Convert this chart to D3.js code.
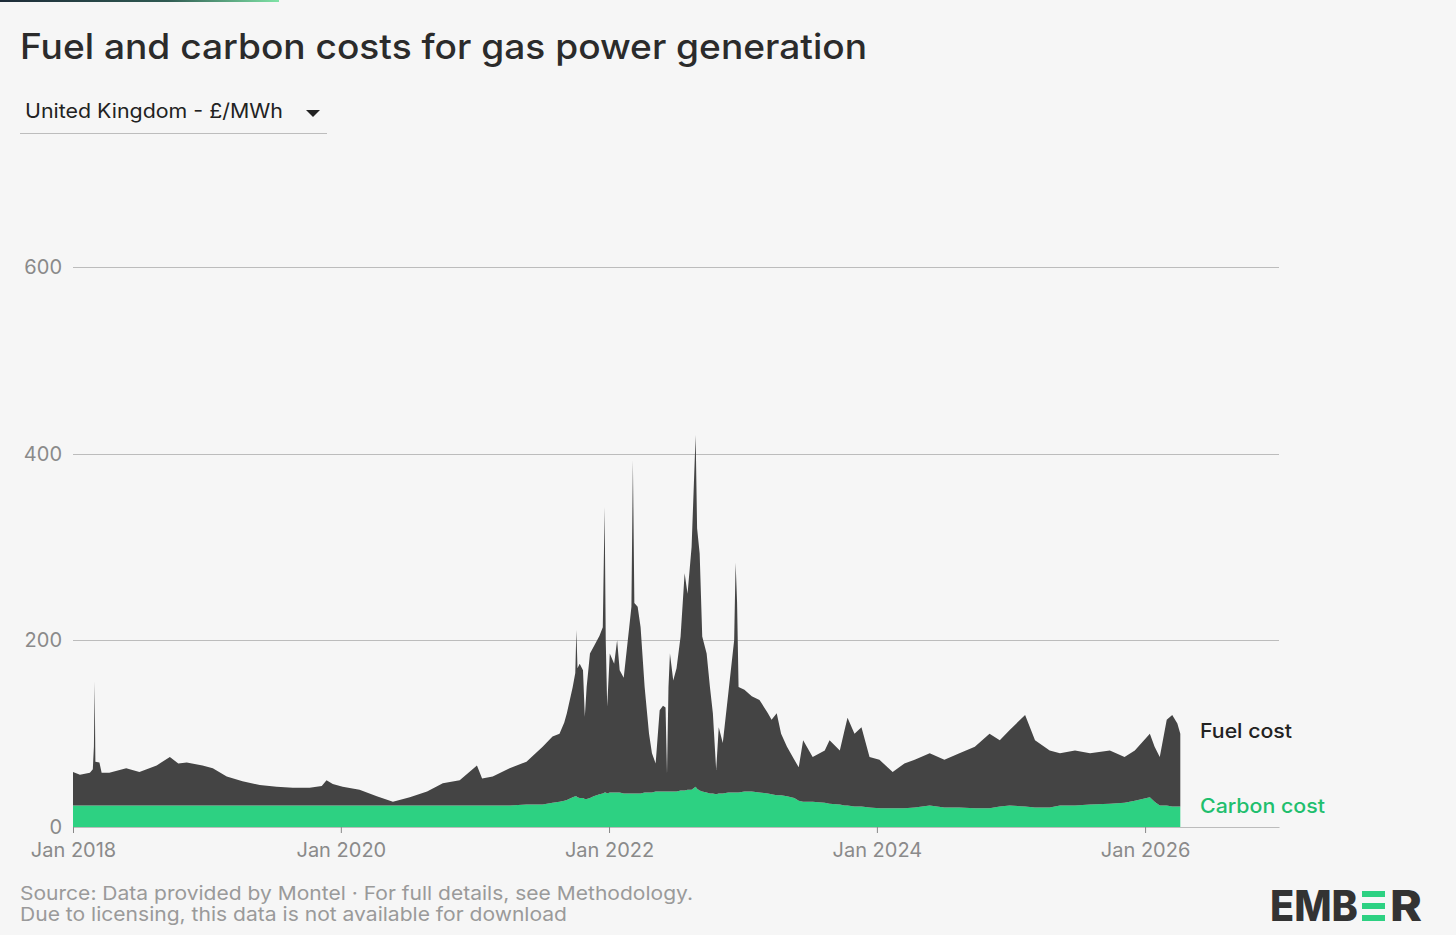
<!DOCTYPE html>
<html>
<head>
<meta charset="utf-8">
<script src="https://cdn.jsdelivr.net/npm/d3@7"></script>
<style>
    body { margin: 0; background: #f6f6f6; }
    svg { display: block; font-family: Inter, "Noto Sans", sans-serif; }
</style>
</head>
<body>
<svg id="chart"></svg>
<script>
// Data (£/MWh), one row of dates per row of values
const dates = [
    '2018-01-01','2018-01-20','2018-02-16','2018-02-24','2018-02-27','2018-03-01','2018-03-03','2018-03-14',
    '2018-03-20','2018-04-10','2018-05-26','2018-07-01','2018-08-17','2018-09-22','2018-10-15','2018-11-07',
    '2018-12-20','2019-01-17','2019-02-24','2019-04-08','2019-05-25','2019-07-10','2019-08-23','2019-10-08',
    '2019-11-10','2019-11-23','2019-12-10','2020-01-06','2020-02-21','2020-04-08','2020-05-22','2020-07-07',
    '2020-08-23','2020-10-05','2020-11-20','2021-01-06','2021-01-20','2021-02-18','2021-04-05','2021-05-21',
    '2021-07-04','2021-07-31','2021-08-19','2021-09-01','2021-09-08','2021-09-24','2021-10-01','2021-10-04',
    '2021-10-07','2021-10-13','2021-10-22','2021-10-27','2021-11-01','2021-11-10','2021-11-20','2021-12-06',
    '2021-12-15','2021-12-20','2021-12-23','2021-12-27','2022-01-03','2022-01-15','2022-01-23','2022-01-30',
    '2022-02-10','2022-02-25','2022-03-03','2022-03-07','2022-03-11','2022-03-20','2022-03-28','2022-04-08',
    '2022-04-20','2022-04-28','2022-05-08','2022-05-19','2022-05-28','2022-06-04','2022-06-08','2022-06-12',
    '2022-06-16','2022-06-25','2022-07-04','2022-07-15','2022-07-26','2022-08-03','2022-08-14','2022-08-25',
    '2022-08-29','2022-09-05','2022-09-12','2022-09-24','2022-10-03','2022-10-11','2022-10-20','2022-10-27',
    '2022-11-07','2022-11-22','2022-12-08','2022-12-12','2022-12-16','2022-12-20','2023-01-05','2023-01-25',
    '2023-02-15','2023-03-10','2023-03-20','2023-04-03','2023-04-15','2023-05-01','2023-05-21','2023-06-02',
    '2023-06-14','2023-07-10','2023-08-12','2023-08-25','2023-09-22','2023-10-05','2023-10-13','2023-11-01',
    '2023-11-20','2023-12-12','2024-01-08','2024-02-13','2024-03-16','2024-04-13','2024-05-24','2024-07-03',
    '2024-08-13','2024-09-24','2024-11-03','2024-12-01','2024-12-28','2025-02-08','2025-03-07','2025-04-16',
    '2025-05-14','2025-06-24','2025-08-04','2025-09-27','2025-11-06','2025-12-04','2026-01-14','2026-01-27',
    '2026-02-10','2026-03-01','2026-03-16','2026-03-30','2026-04-07'
];

const carbonCost = [
    23,23,23,23,23,23,23,23,
    23,23,23,23,23,23,23,23,
    23,23,23,23,23,23,23,23,
    23,23,23,23,23,23,23,23,
    23,23,23,23,23,23,23,24,
    24,26,27,28,29,32,33,33,
    32,31,31,30,30,31,33,35,
    36,37,37,36,37,37,37,37,
    36,36,36,36,36,36,36,37,
    37,37,38,38,38,38,38,38,
    38,38,38,39,39,40,40,43,
    41,39,38,37,36,36,35,36,
    36,37,37,37,37,37,38,38,
    37,36,35,34,34,33,31,28,
    27,27,26,25,24,23,23,22,
    22,21,20,20,20,21,23,21,
    21,20,20,22,23,22,21,21,
    23,23,24,25,26,28,32,27,
    23,23,22,22,22
];

const fuelCost = [
    36,33,35,39,63,133,47,46,
    35,35,40,36,43,52,45,46,
    43,40,31,26,22,20,19,19,
    21,27,23,20,17,10,4,9,
    15,24,27,43,29,31,40,46,
    62,71,73,84,93,118,132,178,
    138,144,137,88,120,155,160,170,
    178,306,163,93,149,138,163,131,
    124,178,200,357,204,200,178,113,
    63,42,30,87,92,90,19,112,
    148,119,132,165,233,210,260,377,
    279,254,166,149,114,86,26,71,
    54,106,163,246,203,113,109,102,
    99,86,80,88,66,53,41,36,
    66,48,56,68,58,81,94,78,
    85,54,52,39,48,51,56,51,
    58,66,80,71,81,98,72,61,
    56,59,55,57,49,54,68,59,
    52,92,98,89,78
];

const yTicks = [0, 200, 400, 600];
const xTickYears = [2018, 2020, 2022, 2024, 2026];
const seriesNames = ['Carbon cost', 'Fuel cost'];

const width = 1456, height = 935;
const margin = { top: 267, right: 177, bottom: 108, left: 73 };

const svg = d3.select('#chart')
    .attr('width', width)
    .attr('height', height);

svg.append('rect')
    .attr('width', width)
    .attr('height', height)
    .attr('fill', '#f6f6f6');

// thin brand bar at the very top
const grad = svg.append('defs').append('linearGradient')
    .attr('id', 'topbar');
grad.append('stop').attr('offset', '0%').attr('stop-color', '#1d2b38');
grad.append('stop').attr('offset', '60%').attr('stop-color', '#2f5a52');
grad.append('stop').attr('offset', '100%').attr('stop-color', '#7fe3a6');
svg.append('rect')
    .attr('x', 0).attr('y', 0)
    .attr('width', 279).attr('height', 2)
    .attr('fill', 'url(#topbar)');

// title
svg.append('text')
    .attr('x', 20)
    .attr('y', 59)
    .attr('font-size', 35)
    .attr('font-weight', 500)
    .attr('fill', '#2b2b2b')
    .attr('textLength', 847)
    .attr('lengthAdjust', 'spacingAndGlyphs')
    .text('Fuel and carbon costs for gas power generation');

// dropdown
svg.append('text')
    .attr('x', 25)
    .attr('y', 118)
    .attr('font-size', 20)
    .attr('fill', '#222')
    .attr('textLength', 258)
    .attr('lengthAdjust', 'spacingAndGlyphs')
    .text('United Kingdom - £/MWh');
svg.append('path')
    .attr('d', 'M306,110 L320,110 L313,117 Z')
    .attr('fill', '#222');
svg.append('line')
    .attr('x1', 20).attr('x2', 327)
    .attr('y1', 133.5).attr('y2', 133.5)
    .attr('stroke', '#bdbdbd');

// chart
const innerW = width - margin.left - margin.right;
const innerH = height - margin.top - margin.bottom;
const chart = svg.append('g')
    .attr('transform', `translate(${margin.left},${margin.top})`);

const parse = d3.timeParse('%Y-%m-%d');
const data = dates.map((d, i) => ({
    date: parse(d),
    carbon: carbonCost[i],
    fuel: fuelCost[i]
}));

const xScale = d3.scaleTime()
    .domain([new Date(2018, 0, 1), new Date(2027, 0, 1)])
    .range([0, innerW]);

const yScale = d3.scaleLinear()
    .domain([0, 600])
    .range([innerH, 0]);

// gridlines
chart.append('g')
    .selectAll('line')
    .data(yTicks.filter(d => d > 0))
    .join('line')
    .attr('x1', 0).attr('x2', innerW)
    .attr('y1', d => Math.round(yScale(d)) + 0.5)
    .attr('y2', d => Math.round(yScale(d)) + 0.5)
    .attr('stroke', '#bcbcbc');

// y labels
chart.append('g')
    .selectAll('text')
    .data(yTicks)
    .join('text')
    .attr('x', -11)
    .attr('y', d => yScale(d))
    .attr('dy', '0.35em')
    .attr('text-anchor', 'end')
    .attr('font-size', 20)
    .attr('fill', '#8a8a8a')
    .text(d => d);

// stacked areas
const stack = d3.stack().keys(['carbon', 'fuel']);
const layers = stack(data);
const colors = { carbon: '#2dd182', fuel: '#444444' };

const area = d3.area()
    .x(d => xScale(d.data.date))
    .y0(d => yScale(d[0]))
    .y1(d => yScale(d[1]));

chart.append('g')
    .selectAll('path')
    .data(layers)
    .join('path')
    .attr('fill', d => colors[d.key])
    .attr('d', area);

// x axis
const xAxis = d3.axisBottom(xScale)
    .tickValues(xTickYears.map(y => new Date(y, 0, 1)))
    .tickSize(6)
    .tickSizeOuter(0)
    .tickPadding(10)
    .tickFormat(d3.timeFormat('Jan %Y'));

const xAxisG = chart.append('g')
    .attr('transform', `translate(0,${innerH})`)
    .call(xAxis);
xAxisG.select('.domain').attr('stroke', '#bcbcbc');
xAxisG.selectAll('.tick line').attr('stroke', '#888');
xAxisG.selectAll('.tick text')
    .attr('font-size', 20)
    .attr('font-family', 'Inter, "Noto Sans", sans-serif')
    .attr('fill', '#8a8a8a');

// series labels at the right end
const last = layers.map(l => l[l.length - 1]);
chart.append('text')
    .attr('x', 1127)
    .attr('y', yScale(last[1][1]) - 3)
    .attr('dy', '0.35em')
    .attr('font-size', 20)
    .attr('font-weight', 500)
    .attr('fill', '#222')
    .attr('textLength', 92)
    .attr('lengthAdjust', 'spacingAndGlyphs')
    .text(seriesNames[1]);
chart.append('text')
    .attr('x', 1127)
    .attr('y', yScale(last[0][1]))
    .attr('dy', '0.35em')
    .attr('font-size', 20)
    .attr('font-weight', 500)
    .attr('fill', '#1fbf6e')
    .attr('textLength', 125)
    .attr('lengthAdjust', 'spacingAndGlyphs')
    .text(seriesNames[0]);

// footer
svg.append('text')
    .attr('x', 20)
    .attr('y', 900)
    .attr('font-size', 19)
    .attr('fill', '#9a9a9a')
    .attr('textLength', 673)
    .attr('lengthAdjust', 'spacingAndGlyphs')
    .text('Source: Data provided by Montel · For full details, see Methodology.');
svg.append('text')
    .attr('x', 20)
    .attr('y', 921)
    .attr('font-size', 19)
    .attr('fill', '#9a9a9a')
    .attr('textLength', 547)
    .attr('lengthAdjust', 'spacingAndGlyphs')
    .text('Due to licensing, this data is not available for download');

// EMBER logo
const logo = svg.append('g').attr('transform', 'translate(1270,921)');
logo.append('text')
    .attr('x', 0).attr('y', 0)
    .attr('font-size', 42)
    .attr('font-weight', 800)
    .attr('fill', '#333')
    .attr('textLength', 88)
    .attr('lengthAdjust', 'spacingAndGlyphs')
    .text('EMB');
logo.selectAll('rect')
    .data([0, 1, 2])
    .join('rect')
    .attr('x', 92)
    .attr('y', d => -30 + d * 12)
    .attr('width', 23)
    .attr('height', 6)
    .attr('fill', '#2dd182');
logo.append('text')
    .attr('x', 120).attr('y', 0)
    .attr('font-size', 42)
    .attr('font-weight', 800)
    .attr('fill', '#333')
    .attr('textLength', 32)
    .attr('lengthAdjust', 'spacingAndGlyphs')
    .text('R');
</script>
</body>
</html>
